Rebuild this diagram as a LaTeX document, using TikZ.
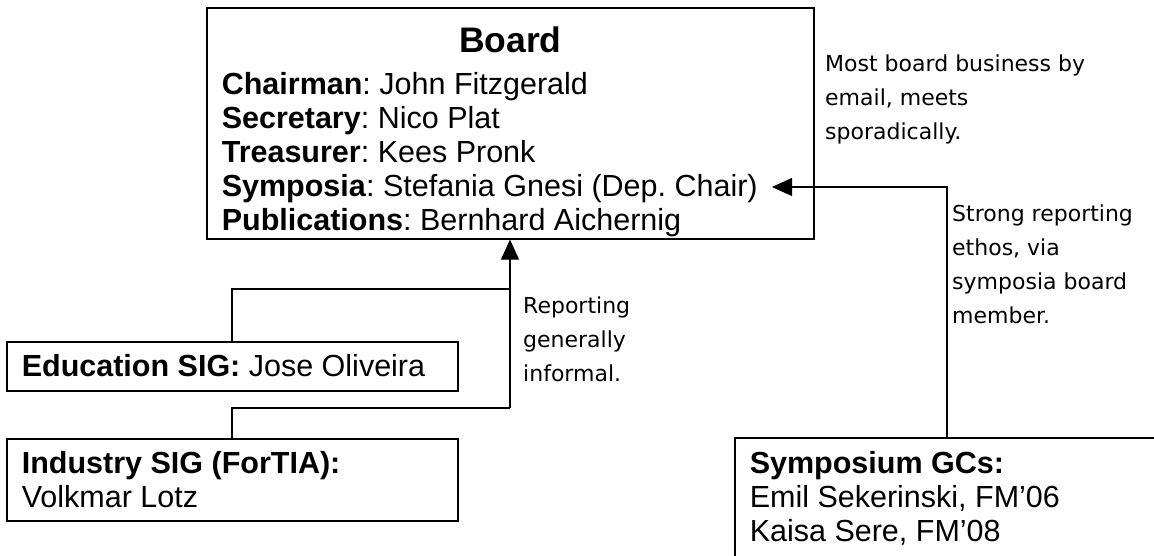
\documentclass[tikz,border=0pt]{standalone}
\usepackage{fontspec}
\setmainfont{Liberation Sans}
\newfontfamily\notefont{DejaVu Sans}
\usetikzlibrary{arrows.meta}
\frenchspacing
\tikzset{
  boxnode/.style={draw, line width=1.6pt, inner sep=0pt, anchor=north west},
  conn/.style={line width=1.1pt},
  arr/.style={conn, -{Triangle[length=20pt,width=18pt]}},
  notenode/.style={inner sep=0pt, anchor=base west},
}
\newcommand{\mainsize}{\fontsize{30.5}{34}\selectfont}
\newcommand{\notesize}{\notefont\fontsize{22}{34}\selectfont}
\begin{document}
\begin{tikzpicture}[x=1pt,y=-1pt]
\useasboundingbox (0,0) rectangle (1154,556);
\clip (0,0) rectangle (1154,556);
% Board
\node[boxnode] (board) at (206,7) {\parbox[t][231pt][t]{607pt}{\mainsize\frenchspacing\leftskip=15pt
{\centering\fontsize{35.5}{35.5}\selectfont\bfseries\rule{0pt}{45pt}Board\par}
\vspace{8pt}
\textbf{Chairman}: John Fitzgerald\\
\textbf{Secretary}: Nico Plat\\
\textbf{Treasurer}: Kees Pronk\\
\textbf{Symposia}: Stefania Gnesi (Dep. Chair)\\
\textbf{Publications}: Bernhard Aichernig}};
% Education SIG
\node[boxnode] (edu) at (6,341) {\parbox[t][49pt][t]{451pt}{\mainsize\frenchspacing\leftskip=15pt
\rule{0pt}{35pt}\textbf{Education SIG:} Jose Oliveira}};
% Industry SIG
\node[boxnode] (ind) at (6,438) {\parbox[t][82pt][t]{451pt}{\mainsize\frenchspacing\leftskip=15pt
\rule{0pt}{35pt}\textbf{Industry SIG (ForTIA):}\\
Volkmar Lotz}};
% Symposium GCs
\node[boxnode] (symp) at (734,437) {\parbox[t][200pt][t]{500pt}{\mainsize\frenchspacing\leftskip=15pt
\rule{0pt}{36pt}\textbf{Symposium GCs:}\\
Emil Sekerinski, FM’06\\
Kaisa Sere, FM’08}};
% notes
\node[notenode] (note1) at (825,72) {\parbox[t]{320pt}{\raggedright\notesize
Most board business by\\email, meets\\sporadically.}};
\node[notenode] (note2) at (523,313) {\parbox[t]{200pt}{\raggedright\notesize
Reporting\\generally\\informal.}};
\node[notenode] (note3) at (952,222) {\parbox[t]{200pt}{\raggedright\notesize
Strong reporting\\ethos, via\\symposia board\\member.}};
% connectors
\coordinate (ex) at (232,289);
\coordinate (ej) at (510,289);
\coordinate (ix) at (232,408);
\coordinate (ij) at (510,408);
\coordinate (sx) at (947,187);
\coordinate (stip) at (772,187);
\draw[conn] (ex |- edu.north) -- (ex) -- (ej);
\draw[conn] (ix |- ind.north) -- (ix) -- (ij);
\draw[arr] (ij) -- (ij |- board.south);
\draw[arr] (sx |- symp.north) -- (sx) -- (stip);
\end{tikzpicture}
\end{document}
